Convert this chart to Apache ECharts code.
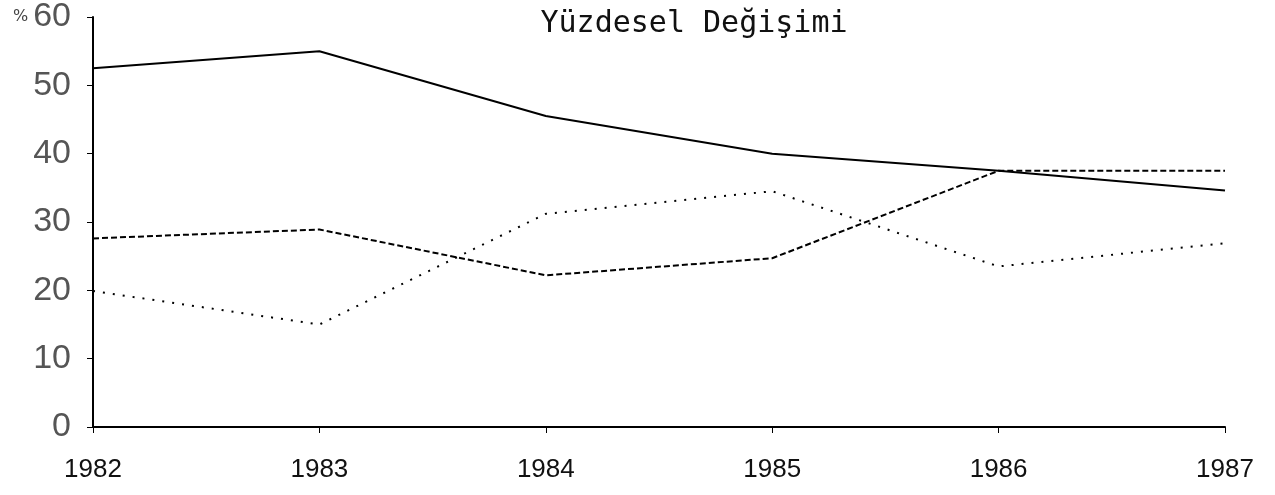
<!DOCTYPE html>
<html>
<head>
<meta charset="utf-8">
<script src="https://cdn.jsdelivr.net/npm/echarts@6/dist/echarts.min.js"></script>
<style>
  html, body { margin: 0; padding: 0; background: #fff; }
  #chart { width: 1275px; height: 495px; }
</style>
</head>
<body>
<div id="chart"></div>
<script>
var years = ['1982', '1983', '1984', '1985', '1986', '1987'];
var solidLine = [52.5, 55.0, 45.5, 40.0, 37.5, 34.6];
var dashedLine = [27.6, 28.9, 22.2, 24.7, 37.5, 37.5];
var dottedLine = [19.9, 15.0, 31.2, 34.5, 23.5, 26.9];
var baseLine = [0, 0, 0, 0, 0, 0];
var yTicks = [0, 10, 20, 30, 40, 50, 60];

var chart = echarts.init(document.getElementById('chart'));

function lineSeries(name, data, type, width) {
  return {
    name: name,
    type: 'line',
    data: data,
    symbol: 'none',
    lineStyle: { color: '#000', width: width, type: type },
    z: 3
  };
}

var option = {
  animation: false,
  backgroundColor: '#fff',
  title: {
    text: 'Yüzdesel Değişimi',
    left: 689,
    textAlign: 'center',
    top: 4,
    textStyle: {
      fontFamily: 'DejaVu Sans Mono',
      fontWeight: 'normal',
      fontSize: 30,
      color: '#111'
    }
  },
  grid: { left: 93, right: 50, top: 16, bottom: 68 },
  xAxis: {
    type: 'category',
    data: years,
    boundaryGap: false,
    axisLine: { lineStyle: { color: '#000', width: 2 } },
    axisTick: { show: true, length: 6, lineStyle: { color: '#000' } },
    axisLabel: {
      margin: 30,
      fontFamily: 'Liberation Sans',
      fontSize: 26,
      color: '#111'
    },
    splitLine: { show: false }
  },
  yAxis: {
    type: 'value',
    min: yTicks[0],
    max: yTicks[yTicks.length - 1],
    interval: 10,
    axisLine: { show: true, lineStyle: { color: '#000', width: 2 } },
    axisTick: { show: true, length: 6, lineStyle: { color: '#000' } },
    axisLabel: {
      margin: 22,
      fontFamily: 'Liberation Sans',
      fontSize: 34,
      color: '#555',
      formatter: function (v) {
        return v === 60 ? '{p|%}' + v : '' + v;
      },
      rich: {
        p: { fontSize: 16, fontFamily: 'DejaVu Sans', color: '#444', padding: [0, 5, 0, 0] }
      }
    },
    splitLine: { show: false }
  },
  series: [
    lineSeries('solid', solidLine, 'solid', 2),
    lineSeries('dashed', dashedLine, [6, 3], 2),
    lineSeries('dotted', dottedLine, [2, 8], 2),
    lineSeries('base', baseLine, [2, 2], 2)
  ]
};

chart.setOption(option);
</script>
</body>
</html>
